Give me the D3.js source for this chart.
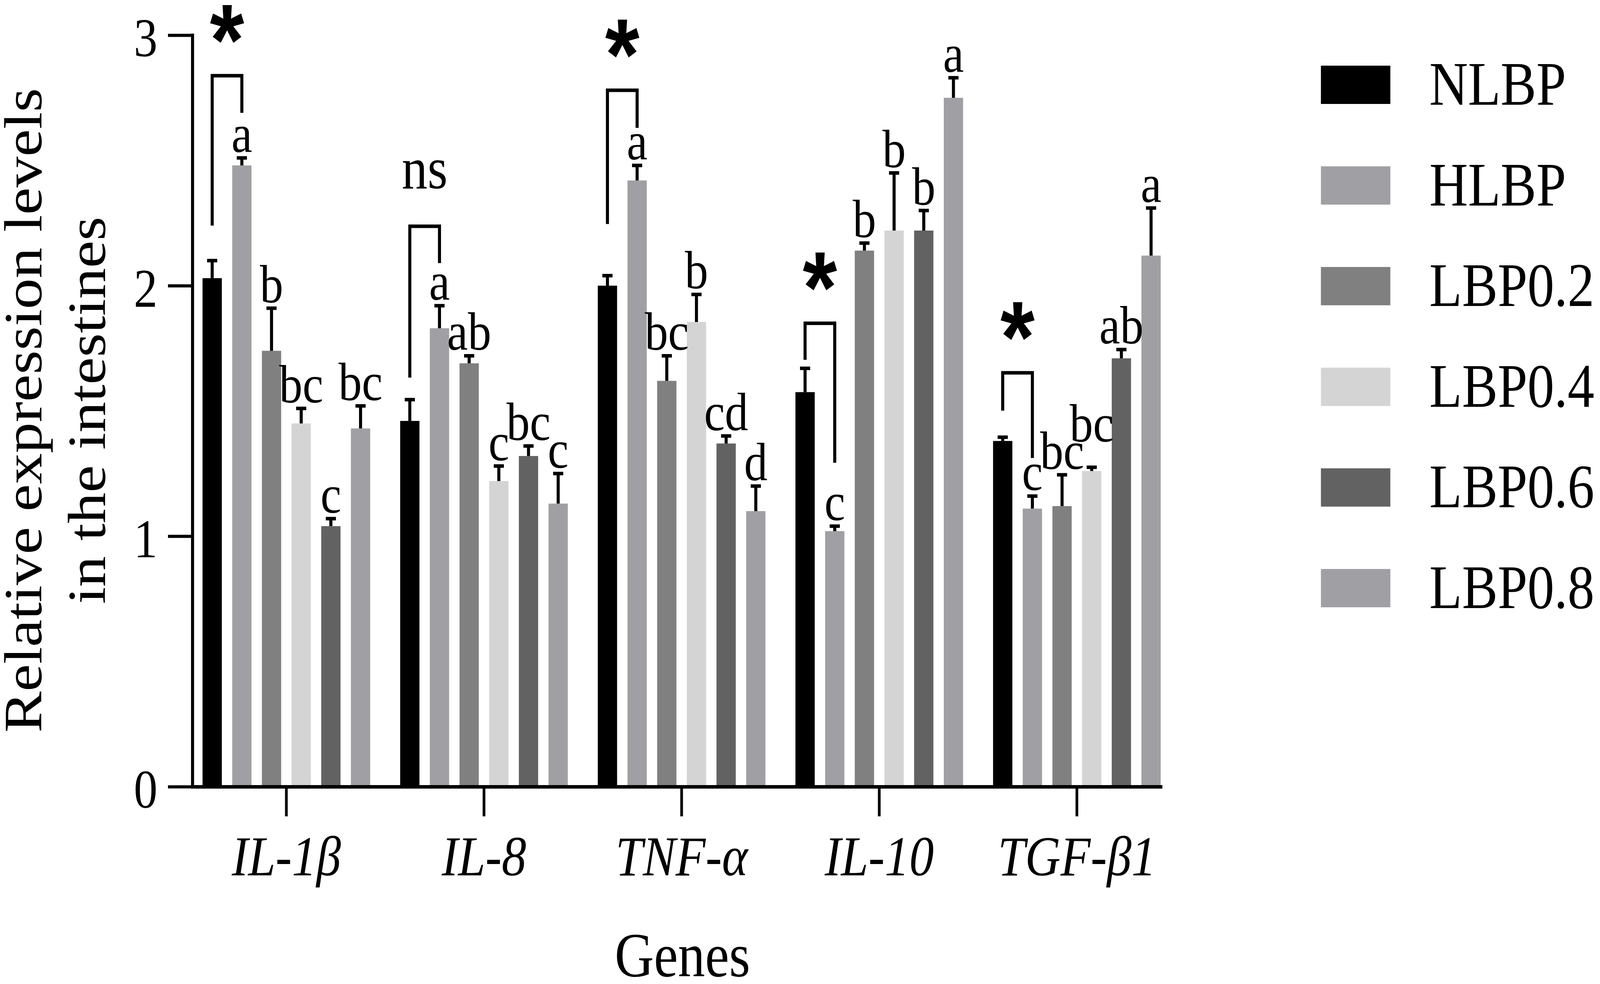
<!DOCTYPE html>
<html>
<head>
<meta charset="utf-8">
<script src="https://cdn.jsdelivr.net/npm/d3@7"></script>
<style>
  html, body { margin: 0; padding: 0; background: #fff; overflow: hidden; }
  svg { display: block; width: 100vw; height: 100vh; font-family: 'Liberation Serif', 'Times New Roman', serif; }
</style>
</head>
<body>
<div id="chart"></div>
<script>
// data
const genes = ['IL-1β', 'IL-8', 'TNF-α', 'IL-10', 'TGF-β1'];
const groups = ['NLBP', 'HLBP', 'LBP0.2', 'LBP0.4', 'LBP0.6', 'LBP0.8'];
const colors = ['#000000', '#a0a0a4', '#808080', '#d4d4d4', '#626262', '#a0a0a4'];

// mean per gene, one array per group
const NLBP   = [2.03, 1.46, 2.00, 1.575, 1.38];
const HLBP   = [2.48, 1.83, 2.42, 1.02, 1.11];
const LBP02  = [1.74, 1.69, 1.62, 2.14, 1.12];
const LBP04  = [1.45, 1.22, 1.855, 2.22, 1.26];
const LBP06  = [1.04, 1.32, 1.37, 2.22, 1.71];
const LBP08  = [1.43, 1.13, 1.10, 2.75, 2.12];

// upper error (SE)
const errNLBP  = [0.07, 0.085, 0.04, 0.095, 0.015];
const errHLBP  = [0.03, 0.09, 0.06, 0.02, 0.05];
const errLBP02 = [0.17, 0.03, 0.10, 0.03, 0.125];
const errLBP04 = [0.06, 0.06, 0.11, 0.23, 0.015];
const errLBP06 = [0.03, 0.04, 0.03, 0.08, 0.035];
const errLBP08 = [0.09, 0.12, 0.10, 0.08, 0.19];

// significance letters (by gene, by group)
const letters = [
  ['', 'a', 'b', 'bc', 'c', 'bc'],
  ['', 'a', 'ab', 'c', 'bc', 'c'],
  ['', 'a', 'bc', 'b', 'cd', 'd'],
  ['', 'c', 'b', 'b', 'b', 'a'],
  ['', 'c', 'bc', 'bc', 'ab', 'a']
];

// NLBP vs HLBP comparison brackets (in y units)
const sigText = ['*', 'ns', '*', '*', '*'];
const sigTop = [2.838, 2.237, 2.780, 1.850, 1.652];
const sigLeftEnd = [2.240, 1.633, 2.246, 1.704, 1.501];
const sigRightEnd = [2.690, 2.090, 2.630, 1.293, 1.312];

const yTicks = [0, 1, 2, 3];

const means = [NLBP, HLBP, LBP02, LBP04, LBP06, LBP08];
const errs = [errNLBP, errHLBP, errLBP02, errLBP04, errLBP06, errLBP08];

const W = 4724;
const H = 2518;
const m = { left: 568, right: 3427, top: 90, bottom: 2013 };

// drawn in reference pixels, stretched to whatever the window is
const svg = d3.select('#chart')
  .append('svg')
  .attr('viewBox', '0 0 ' + W + ' ' + H)
  .attr('preserveAspectRatio', 'none');

svg.append('rect').attr('width', W).attr('height', H).attr('fill', '#fff');

const y = d3.scaleLinear().domain([0, 3]).range([m.bottom, m.top]);

const x0 = d3.scaleBand()
  .domain(genes)
  .range([m.left, m.right])
  .paddingInner(0.1517)
  .paddingOuter(0.0257)
  .align(1);

const x1 = d3.scaleBand()
  .domain(groups)
  .range([0, x0.bandwidth()])
  .paddingInner(0.35)
  .paddingOuter(0);

const bars = [];
genes.forEach((g, gi) => {
  groups.forEach((s, si) => {
    bars.push({
      gene: g, gi: gi, group: s, si: si,
      value: means[si][gi], err: errs[si][gi],
      letter: letters[gi][si]
    });
  });
});

const cx = d => x0(d.gene) + x1(d.group) + x1.bandwidth() / 2;

// bars
svg.append('g')
  .selectAll('rect')
  .data(bars)
  .enter()
  .append('rect')
  .attr('x', d => x0(d.gene) + x1(d.group))
  .attr('y', d => y(d.value))
  .attr('width', x1.bandwidth())
  .attr('height', d => y(0) - y(d.value))
  .attr('fill', d => colors[d.si]);

// error bars (upper only)
const eb = svg.append('g').attr('stroke', '#000').attr('stroke-width', 9);
eb.selectAll('line.v')
  .data(bars)
  .enter()
  .append('line')
  .attr('class', 'v')
  .attr('x1', cx).attr('x2', cx)
  .attr('y1', d => y(d.value))
  .attr('y2', d => y(d.value + d.err));
eb.selectAll('line.cap')
  .data(bars)
  .enter()
  .append('line')
  .attr('class', 'cap')
  .attr('x1', d => cx(d) - 15).attr('x2', d => cx(d) + 15)
  .attr('y1', d => y(d.value + d.err))
  .attr('y2', d => y(d.value + d.err));

// letters above error bars
const letterSize = 138;
const labelled = bars.filter(d => d.letter !== '');
const letterText = svg.append('g')
  .selectAll('text')
  .data(labelled)
  .enter()
  .append('text')
  .attr('x', cx)
  .attr('text-anchor', 'middle')
  .attr('font-size', letterSize)
  .text(d => d.letter);

// nudge a label up when it really runs into its left neighbour
letterText.each(function (d) { d.lw = this.getComputedTextLength(); });
let prev = null;
labelled.forEach(d => {
  d.ly = y(d.value + d.err) - 15;
  d.lh = (/[bd]/.test(d.letter) ? 0.683 : 0.46) * letterSize;
  if (prev && prev.gi === d.gi) {
    const overlapX = (cx(prev) + prev.lw / 2) - (cx(d) - d.lw / 2);
    const overlapY = Math.min(prev.ly, d.ly) - Math.max(prev.ly - prev.lh, d.ly - d.lh);
    if (overlapX > 20 && overlapY > 0) {
      d.ly = prev.ly - 70;
    }
  }
  prev = d;
});
letterText.attr('y', d => d.ly);

// comparison brackets
const br = svg.append('g');
genes.forEach((g, gi) => {
  const xl = x0(g) + x1('NLBP') + x1.bandwidth() / 2;
  const xr = x0(g) + x1('HLBP') + x1.bandwidth() / 2;
  br.append('path')
    .attr('d', 'M' + xl + ',' + y(sigLeftEnd[gi]) + 'V' + y(sigTop[gi]) + 'H' + xr + 'V' + y(sigRightEnd[gi]))
    .attr('fill', 'none')
    .attr('stroke', '#000')
    .attr('stroke-width', 9);
  const isStar = sigText[gi] === '*';
  br.append('text')
    .attr('x', (xl + xr) / 2)
    .attr('y', y(sigTop[gi]) - (isStar ? 2 : 97))
    .attr('text-anchor', 'middle')
    .attr('font-family', isStar ? "'Liberation Sans', Arial, sans-serif" : null)
    .attr('font-size', isStar ? 260 : 152)
    .attr('font-weight', isStar ? 'bold' : 'normal')
    .text(sigText[gi]);
});

// axes
const yAxis = svg.append('g')
  .attr('transform', 'translate(' + m.left + ',0)')
  .call(d3.axisLeft(y).tickValues(yTicks).tickFormat(d3.format('d'))
    .tickSize(72).tickSizeOuter(0).tickPadding(31));
yAxis.select('.domain').attr('stroke-width', 9).attr('stroke-linecap', 'square');
yAxis.selectAll('.tick line').attr('stroke-width', 8);
yAxis.selectAll('.tick text')
  .attr('font-size', 140)
  .attr('font-family', "'Liberation Serif', 'Times New Roman', serif")
  .attr('fill', '#000')
  .attr('dy', '0.38em');

const xAxis = svg.append('g')
  .attr('transform', 'translate(0,' + m.bottom + ')')
  .call(d3.axisBottom(x0).tickSize(76).tickSizeOuter(0));
xAxis.select('.domain').attr('stroke-width', 9).attr('stroke-linecap', 'square');
xAxis.selectAll('.tick line').attr('stroke-width', 8);
xAxis.selectAll('.tick text')
  .attr('font-size', 145)
  .attr('font-style', 'italic')
  .attr('font-family', "'Liberation Serif', 'Times New Roman', serif")
  .attr('fill', '#000')
  .attr('y', 227)
  .attr('dy', 0);

// axis titles
svg.append('text')
  .attr('x', 2015)
  .attr('y', 2498)
  .attr('text-anchor', 'middle')
  .attr('font-size', 160)
  .text('Genes');

const yTitle = svg.append('text')
  .attr('transform', 'translate(0,1050) rotate(-90)')
  .attr('text-anchor', 'middle')
  .attr('font-size', 158);
yTitle.append('tspan').attr('x', 0).attr('y', 122).text('Relative expression levels');
yTitle.append('tspan').attr('x', 0).attr('y', 310).text('in the intestines');

// legend
const legend = svg.append('g')
  .selectAll('g')
  .data(groups)
  .enter()
  .append('g')
  .attr('transform', (d, i) => 'translate(3900,' + (168 + i * 257.6) + ')');
legend.append('rect')
  .attr('width', 205)
  .attr('height', 98)
  .attr('fill', (d, i) => colors[i]);
legend.append('text')
  .attr('x', 320)
  .attr('y', 100)
  .attr('font-size', 158)
  .text(d => d);
</script>
</body>
</html>
